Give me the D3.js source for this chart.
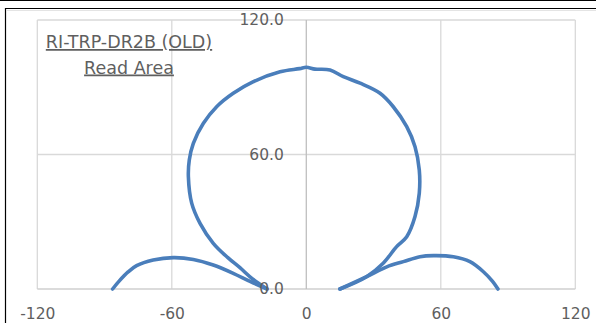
<!DOCTYPE html>
<html>
<head>
<meta charset="utf-8">
<script src="https://cdn.jsdelivr.net/npm/d3@7/dist/d3.min.js"></script>
<style>
  html, body { margin: 0; padding: 0; background: #fff; }
  svg { display: block; }
  text { font-family: "DejaVu Sans", sans-serif; fill: #5f5f5f; }
</style>
</head>
<body>
<svg id="chart" width="596" height="323"></svg>
<script>
// Read-area pattern (x, y) in the same units on both axes
const leftLobe = [
  [-86.4, 0], [-83.5, 3.5], [-79.5, 7.6], [-75.7, 10.4], [-68.3, 12.9], [-59.3, 14.0],
  [-50.4, 13.2], [-41.5, 10.7], [-32.6, 7.0], [-25.1, 3.4], [-17.5, 0]
];
const mainLobe = [
  [-17.5, 0], [-24, 4.5], [-29.6, 9.5], [-35, 14], [-41.5, 20.4], [-47.4, 29.3],
  [-51.1, 38.2], [-52.6, 50.1], [-52.2, 57.5], [-50.4, 65], [-45.9, 73.9],
  [-40, 81.3], [-32.6, 87.3], [-23.6, 92.5], [-11.7, 96.9], [-3, 98.3], [0, 98.9],
  [3.9, 98.1], [10.6, 97.7], [16.5, 94.7], [24, 91.8], [32.9, 87.3], [38.8, 81.3],
  [44.8, 72.4], [48.5, 63.5], [50.4, 53.1], [50.4, 42.7], [48.5, 32.3], [44.8, 23.3],
  [40.3, 18.9], [34.3, 11.5], [26.9, 5.5], [15, 0]
];
const rightLobe = [
  [15, 0], [26.9, 5.5], [35.9, 9.9], [43.3, 12.2], [50.7, 14.4], [56.7, 14.9],
  [65.6, 14.4], [73, 12.2], [79, 7.7], [83, 3.5], [85.5, 0]
];
const xTicks = [-120, -60, 0, 60, 120];
const yTicks = [0, 60, 120];
const titleLines = ["RI-TRP-DR2B (OLD)", "Read Area"];

const svg = d3.select("#chart");

const x = d3.scaleLinear().domain([-120, 120]).range([37.3, 575.3]);
const y = d3.scaleLinear().domain([0, 120]).range([289, 20]);

// sheet frame lines around the chart object
svg.append("line").attr("x1", 0).attr("x2", 596).attr("y1", 0.5).attr("y2", 0.5)
  .attr("stroke", "#000").attr("stroke-width", 1);
svg.append("line").attr("x1", 5).attr("x2", 596).attr("y1", 8.5).attr("y2", 8.5)
  .attr("stroke", "#000").attr("stroke-width", 1.2);
svg.append("line").attr("x1", 5.5).attr("x2", 5.5).attr("y1", 8).attr("y2", 323)
  .attr("stroke", "#000").attr("stroke-width", 1.2);
svg.append("line").attr("x1", 6).attr("x2", 596).attr("y1", 10.5).attr("y2", 10.5)
  .attr("stroke", "#e4e4e4").attr("stroke-width", 1);

// gridlines
const grid = svg.append("g").attr("stroke", "#d9d9d9").attr("stroke-width", 1.3);
grid.selectAll("line.v").data(xTicks.filter(d => d !== 0)).join("line")
  .attr("class", "v")
  .attr("x1", d => x(d)).attr("x2", d => x(d))
  .attr("y1", y(0)).attr("y2", y(120));
grid.selectAll("line.h").data(yTicks.filter(d => d !== 0)).join("line")
  .attr("class", "h")
  .attr("x1", x(-120)).attr("x2", x(120))
  .attr("y1", d => y(d)).attr("y2", d => y(d));

// axis lines through the origin
svg.append("line").attr("x1", x(-120)).attr("x2", x(120)).attr("y1", y(0)).attr("y2", y(0))
  .attr("stroke", "#cfcfcf").attr("stroke-width", 1.3);
svg.append("line").attr("x1", x(0)).attr("x2", x(0)).attr("y1", y(0)).attr("y2", y(120))
  .attr("stroke", "#bfbfbf").attr("stroke-width", 1.3);

// pattern curves
const line = d3.line().x(d => x(d[0])).y(d => y(d[1])).curve(d3.curveCatmullRom.alpha(0.5));
svg.append("g").selectAll("path").data([leftLobe, mainLobe, rightLobe]).join("path")
  .attr("d", line)
  .attr("fill", "none")
  .attr("stroke", "#4a7ebb")
  .attr("stroke-width", 3.6)
  .attr("stroke-linejoin", "round")
  .attr("stroke-linecap", "round");

// axes (labels only)
const xAxis = svg.append("g").attr("transform", `translate(0,${y(0)})`)
  .call(d3.axisBottom(x).tickValues(xTicks).tickSize(0).tickPadding(19).tickFormat(d => String(d)));
const yAxis = svg.append("g").attr("transform", `translate(${x(0)},0)`)
  .call(d3.axisLeft(y).tickValues(yTicks).tickSize(0).tickPadding(22.5).tickFormat(d => d.toFixed(1)));
[xAxis, yAxis].forEach(g => {
  g.select(".domain").remove();
  g.selectAll("text")
    .attr("fill", "#5f5f5f")
    .style("font-family", "'DejaVu Sans', sans-serif")
    .style("font-size", "15.5px");
});

// title block
svg.append("g").selectAll("text").data(titleLines).join("text")
  .attr("x", 129)
  .attr("y", (d, i) => 48 + i * 25.5)
  .attr("text-anchor", "middle")
  .style("font-size", "17.5px")
  .style("text-decoration", "underline")
  .text(d => d);
</script>
</body>
</html>
